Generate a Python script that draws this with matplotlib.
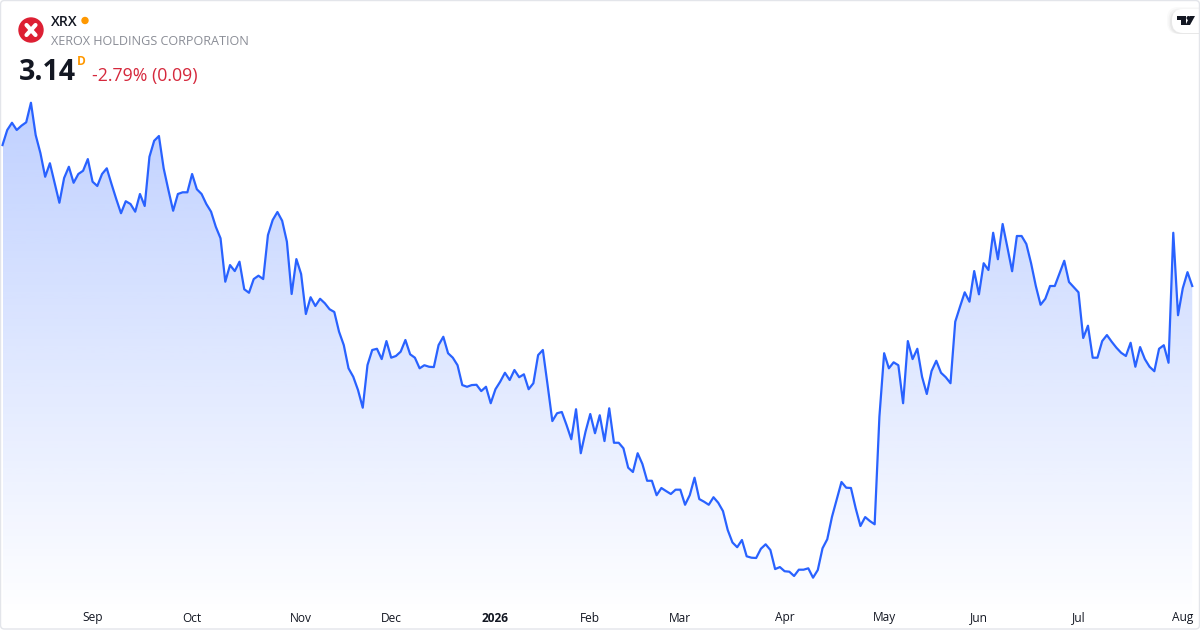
import numpy as np
import matplotlib
matplotlib.use("Agg")
import matplotlib.pyplot as plt
from matplotlib.patches import Circle, FancyBboxPatch, Polygon

plt.rcParams['font.family'] = ['Open Sans', 'Noto Sans', 'DejaVu Sans']

# daily closes
close = [
    4.056, 4.154, 4.201, 4.154, 4.182, 4.204, 4.331, 4.121, 4.004, 3.850, 3.938, 3.811, 3.681, 3.842, 3.915,
    3.811, 3.868, 3.889, 3.965, 3.818, 3.790, 3.868, 3.905, 3.803, 3.705, 3.613, 3.691, 3.673, 3.623, 3.738,
    3.660, 3.980, 4.084, 4.115, 3.905, 3.764, 3.629, 3.738, 3.749, 3.749, 3.868, 3.769, 3.738, 3.673, 3.623,
    3.525, 3.450, 3.168, 3.276, 3.237, 3.298, 3.119, 3.096, 3.185, 3.207, 3.185, 3.471, 3.569, 3.621, 3.564,
    3.428, 3.088, 3.315, 3.218, 2.958, 3.067, 3.010, 3.057, 3.028, 2.989, 2.971, 2.843, 2.756, 2.605, 2.550,
    2.464, 2.349, 2.626, 2.724, 2.732, 2.665, 2.782, 2.674, 2.685, 2.713, 2.789, 2.696, 2.674, 2.605, 2.625,
    2.615, 2.613, 2.756, 2.810, 2.703, 2.674, 2.625, 2.496, 2.485, 2.496, 2.498, 2.457, 2.485, 2.378, 2.469,
    2.518, 2.576, 2.529, 2.594, 2.547, 2.566, 2.469, 2.508, 2.691, 2.724, 2.496, 2.262, 2.313, 2.321, 2.236,
    2.144, 2.339, 2.053, 2.193, 2.308, 2.183, 2.300, 2.132, 2.345, 2.121, 2.121, 2.085, 1.959, 1.931, 2.053,
    1.983, 1.874, 1.874, 1.780, 1.827, 1.807, 1.788, 1.816, 1.816, 1.718, 1.781, 1.894, 1.755, 1.738, 1.718,
    1.767, 1.731, 1.677, 1.554, 1.473, 1.442, 1.489, 1.383, 1.374, 1.372, 1.432, 1.461, 1.424, 1.300, 1.313,
    1.286, 1.283, 1.255, 1.296, 1.296, 1.305, 1.244, 1.294, 1.435, 1.494, 1.640, 1.754, 1.866, 1.829, 1.827,
    1.695, 1.580, 1.638, 1.612, 1.591, 2.290, 2.703, 2.605, 2.644, 2.625, 2.378, 2.782, 2.665, 2.732, 2.550,
    2.438, 2.587, 2.654, 2.576, 2.547, 2.508, 2.908, 3.005, 3.099, 3.038, 3.237, 3.086, 3.288, 3.244, 3.486,
    3.314, 3.543, 3.392, 3.236, 3.465, 3.465, 3.413, 3.288, 3.140, 3.018, 3.057, 3.140, 3.140, 3.223, 3.304,
    3.166, 3.132, 3.099, 2.802, 2.882, 2.674, 2.674, 2.782, 2.821, 2.778, 2.739, 2.706, 2.685, 2.771, 2.615,
    2.743, 2.665, 2.615, 2.586, 2.732, 2.755, 2.641, 3.486, 2.950, 3.125, 3.230, 3.140,
]
tick_pos = [19, 40, 63, 82, 104, 124, 143, 165, 186, 206, 227, 249]
tick_labels = ['Sep', 'Oct', 'Nov', 'Dec', '2026', 'Feb', 'Mar', 'Apr', 'May', 'Jun', 'Jul', 'Aug']

line_color = '#2962FF'
step = 4.74
x = np.arange(len(close))

fig = plt.figure(figsize=(12, 6.3), dpi=100, facecolor='white')
ax = fig.add_axes([0, 0, 1, 1])
x0, x1 = -2.5 / step, (1200 - 2.5) / step
y0, y1 = 0.904, 4.999

# gradient under the line
grad = np.zeros((256, 1, 4))
grad[..., :3] = matplotlib.colors.to_rgb(line_color)
grad[..., 3] = np.linspace(0.30, 0.0, 256)[:, None]
im = ax.imshow(grad, extent=[x[0], x[-1], y0 + 0.08, 4.36], aspect='auto', origin='upper', zorder=1)
poly = Polygon(list(zip(x, close)) + [(x[-1], y0), (x[0], y0)], closed=True, transform=ax.transData,
               facecolor='none', edgecolor='none')
ax.add_patch(poly)
im.set_clip_path(poly)

ax.plot(x, close, color=line_color, lw=1.6, solid_joinstyle='round', zorder=2)
ax.set_xlim(x0, x1)
ax.set_ylim(y0, y1)
ax.axis('off')

for p, lab in zip(tick_pos, tick_labels):
    ax.text(p, 0.904 + 12 * 0.0065, lab, ha='center', va='center', fontsize=8.6, color='#131722',
            fontweight='bold' if lab == '2026' else 'normal', zorder=3)

# header, logo and frame in pixel coordinates
deco = fig.add_axes([0, 0, 1, 1], facecolor='none')
deco.set_xlim(0, 1200)
deco.set_ylim(630, 0)
deco.axis('off')

deco.add_patch(Circle((31, 30), 12, color='#DD1F33', zorder=3))
deco.plot([26.5, 35.5], [25, 35], color='white', lw=3.0, solid_capstyle='round', zorder=4)
deco.plot([26.5, 35.5], [35, 25], color='white', lw=3.0, solid_capstyle='round', zorder=4)

deco.text(51, 21.5, 'XRX', fontsize=10.2, fontweight='semibold', color='#131722', va='center')
deco.add_patch(Circle((85, 20.5), 3, color='#FF9800'))
deco.text(51, 41.5, 'XEROX HOLDINGS CORPORATION', fontsize=9.1, color='#8A8D96', va='center')
deco.text(19, 72, '3.14', fontsize=20.5, fontweight='bold', color='#131722', va='center')
deco.text(77, 61.5, 'D', fontsize=8.6, fontweight='bold', color='#FF9800', va='center')
deco.text(92, 76, '-2.79% (0.09)', fontsize=12.75, color='#D5283C', va='center')

# tradingview badge
for grow, a in [(5, 0.02), (3.5, 0.03), (2, 0.04)]:
    deco.add_patch(FancyBboxPatch((1172 - grow, 10 - grow + 2), 40 + grow, 22 + grow,
                                  boxstyle='round,pad=0,rounding_size=11', fc='black', ec='none', alpha=a))
deco.add_patch(FancyBboxPatch((1172, 9), 40, 24, boxstyle='round,pad=0,rounding_size=11', fc='white', ec='none'))
deco.add_patch(Polygon([(1177, 16), (1186, 16), (1186, 25), (1181, 25), (1181, 19.5), (1177, 19.5)], fc='#131722', ec='none'))
deco.add_patch(Circle((1188.5, 18), 2, fc='#131722', ec='none'))
deco.add_patch(Polygon([(1190, 16), (1195, 16), (1190, 25), (1185.5, 25)], fc='#131722', ec='none'))

deco.add_patch(FancyBboxPatch((0.5, 0.5), 1199, 628.5, boxstyle='round,pad=0,rounding_size=4',
                              fc='none', ec='#E3E5EA', lw=1, clip_on=False))

fig.savefig('out.png', dpi=100)
